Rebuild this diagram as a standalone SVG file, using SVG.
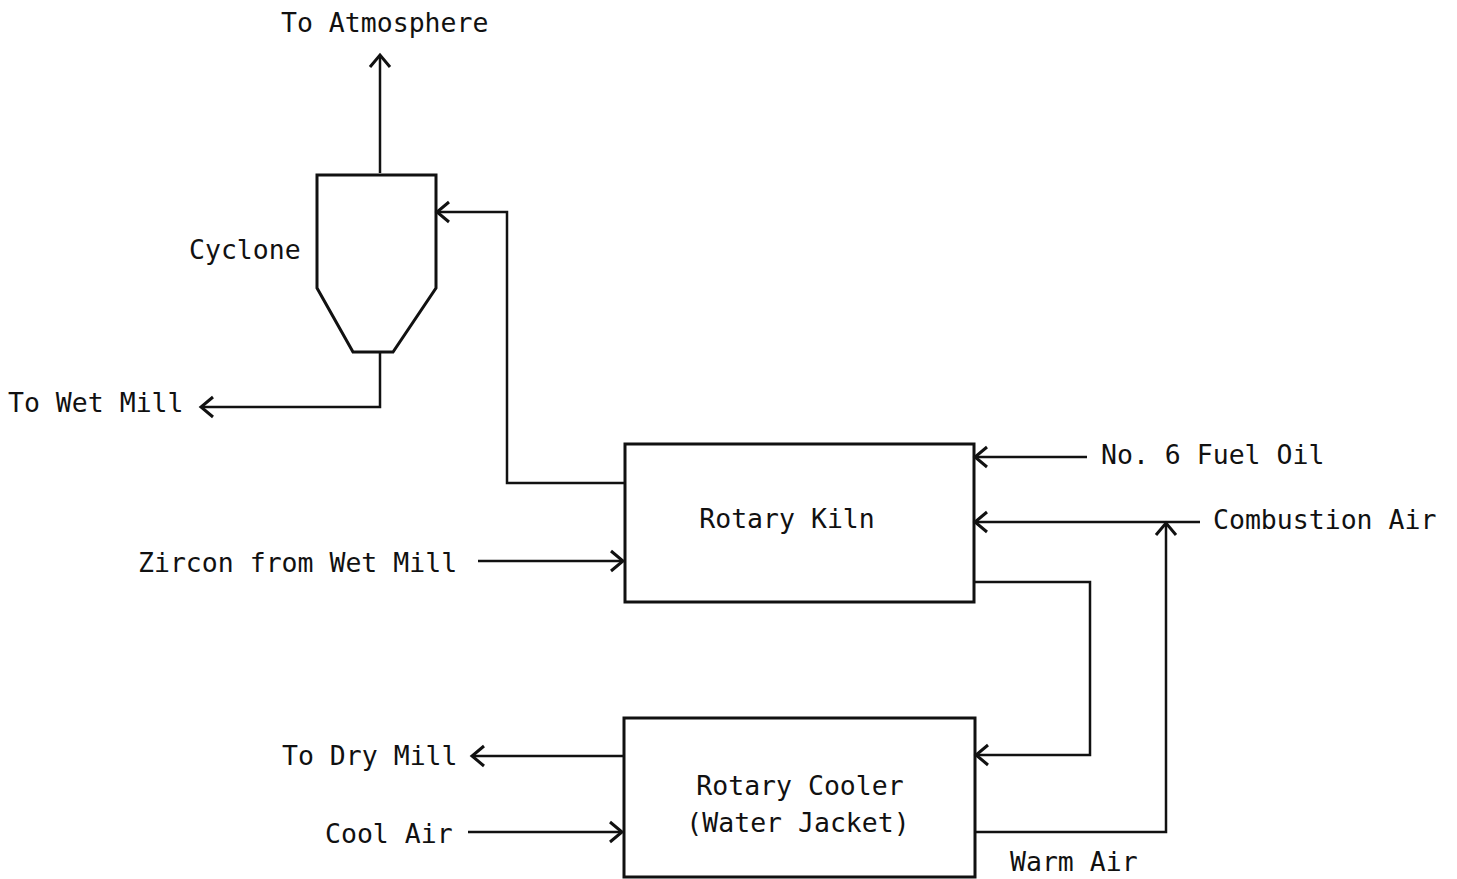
<svg xmlns="http://www.w3.org/2000/svg" width="1457" height="879" viewBox="0 0 1457 879">
<style>
text{font-family:"DejaVu Sans Mono","Liberation Mono",monospace;font-size:26.5px;fill:#111}
.s{fill:none;stroke:#111;stroke-width:3;stroke-linejoin:miter}
.c{fill:none;stroke:#111;stroke-width:2.5}
</style>
<defs>
<marker id="a" markerUnits="userSpaceOnUse" markerWidth="30" markerHeight="30" viewBox="-15 -15 30 30" refX="0" refY="0" orient="auto" overflow="visible">
<path d="M-12,-10 L0,0 L-12,10" fill="none" stroke="#111" stroke-width="3"/>
</marker>
</defs>
<rect width="1457" height="879" fill="#fff"/>
<g id="cyclone">
<path class="s" d="M317,175 L436,175 L436,288 L393,352 L353,352 L317,288 Z"/>
<text x="189" y="259">Cyclone</text>
</g>
<g id="kiln">
<rect class="s" x="625" y="444" width="349" height="158"/>
<text x="787" y="528" text-anchor="middle">Rotary Kiln</text>
</g>
<g id="cooler">
<rect class="s" x="624" y="718" width="351" height="159"/>
<text x="800" y="795" text-anchor="middle">Rotary Cooler</text>
<text x="798" y="832" text-anchor="middle">(Water Jacket)</text>
</g>
<g id="labels">
<text x="281" y="32">To Atmosphere</text>
<text x="8" y="412">To Wet Mill</text>
<text x="138" y="572">Zircon from Wet Mill</text>
<text x="1101" y="464">No. 6 Fuel Oil</text>
<text x="1213" y="529">Combustion Air</text>
<text x="282" y="765">To Dry Mill</text>
<text x="325" y="843">Cool Air</text>
<text x="1010" y="871">Warm Air</text>
</g>
<g id="connectors">
<path class="c" d="M380,173 L380,55" marker-end="url(#a)"/>
<path class="c" d="M380,352 L380,407 L201,407" marker-end="url(#a)"/>
<path class="c" d="M625,483 L507,483 L507,212 L437,212" marker-end="url(#a)"/>
<path class="c" d="M478,561 L623,561" marker-end="url(#a)"/>
<path class="c" d="M1087,457 L975,457" marker-end="url(#a)"/>
<path class="c" d="M1200,522 L975,522" marker-end="url(#a)"/>
<path class="c" d="M975,832 L1166,832 L1166,523" marker-end="url(#a)"/>
<path class="c" d="M975,582 L1090,582 L1090,755 L976,755" marker-end="url(#a)"/>
<path class="c" d="M624,756 L472,756" marker-end="url(#a)"/>
<path class="c" d="M468,832 L622,832" marker-end="url(#a)"/>
</g>
</svg>
